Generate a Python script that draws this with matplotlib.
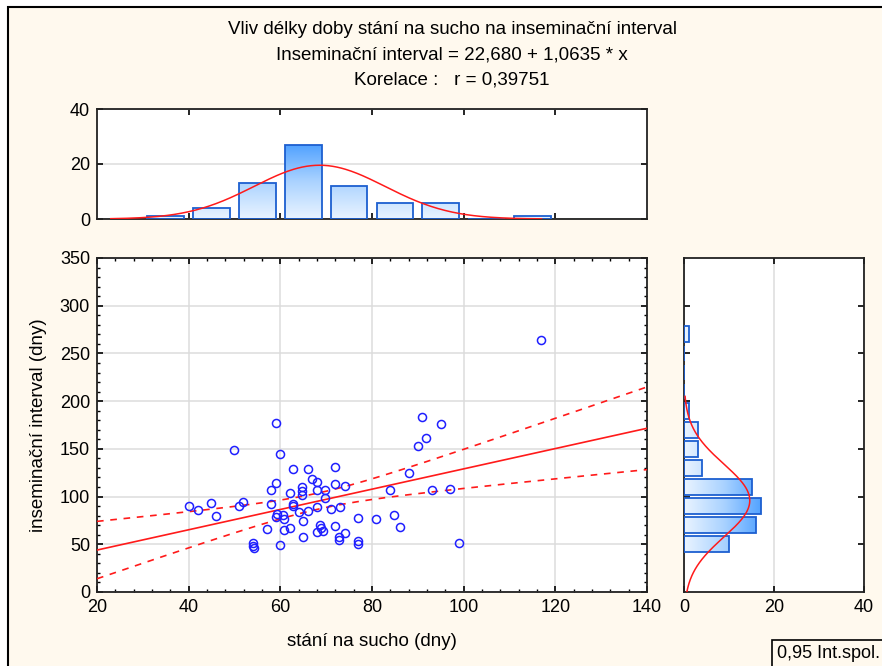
import numpy as np
import matplotlib
matplotlib.use("Agg")
import matplotlib.pyplot as plt
from matplotlib.patches import Rectangle, PathPatch
from matplotlib.path import Path
from matplotlib.colors import LinearSegmentedColormap
from matplotlib.ticker import MultipleLocator

# data
dry_days = [40, 42, 44.8, 46, 49.8,
            51, 51.9, 54, 54, 54.2, 57, 58, 58, 59, 59, 59.2, 59, 59.9,
            60, 60.6, 60.9, 60.9, 62, 62.1, 62.8, 62.8, 62.8, 64.1, 64.7, 64.7, 64.7,
            64.9, 64.9, 66.1, 66.1, 66.8, 68.1, 68.1, 68.1, 67.9, 68.6, 68.8, 69.2,
            69.8, 69.8,
            71, 71.9, 71.9, 71.9, 73, 72.9, 74, 72.9, 74, 77, 77, 77,
            80.8, 84, 84.8, 86, 88, 90.1,
            90.8, 91.8, 93, 95, 97, 99,
            116.9]
interval = [90, 85.5, 92.8, 79.3, 149,
            90.3, 94.5, 51, 48.5, 46, 66, 107, 92, 176.8, 114.6, 81.8, 79, 145,
            49, 80.7, 76.5, 65, 104, 66.8, 129, 90.5, 92.5, 84, 110, 106, 102,
            74.5, 57.3, 129, 85.2, 118.4, 115, 107, 89.4, 63.2, 70, 67, 64,
            107, 98.2,
            86.7, 131, 113, 69.5, 89.4, 57.3, 61.5, 54, 111, 77.2, 53.8, 50.3,
            77, 107, 81, 68, 125, 153,
            183, 161.8, 107, 176.4, 108.3, 51.7,
            264]

x_bin_centers = [35, 45, 55, 65, 75, 85, 95, 105, 115]
x_counts = [1, 4, 13, 27, 12, 6, 6, 0, 1]
y_bin_centers = [50, 70, 90, 110, 130, 150, 170, 190, 210, 230, 250, 270]
y_counts = [10, 16, 17, 15, 4, 3, 3, 1, 0, 0, 0, 1]

intercept = 22.680
slope = 1.0635
title_lines = ["Vliv délky doby stání na sucho na inseminační interval",
               "Inseminační interval = 22,680 + 1,0635 * x",
               "Korelace :   r = 0,39751"]

plt.rcParams['font.family'] = ['Liberation Sans', 'DejaVu Sans']
cream = "#FFF9EE"
bar_edge = "#1C5FD0"
grid_c = "#DCDCDC"
W, H = 882, 666

def box(l, t, r, b):
    return [l / W, 1 - b / H, (r - l) / W, (b - t) / H]

fig = plt.figure(figsize=(W / 100, H / 100), dpi=100, facecolor="white")
fig.add_artist(Rectangle((8 / W, -0.02), 1.0, 1 - 7 / H + 0.02, transform=fig.transFigure,
                         facecolor=cream, edgecolor="black", lw=1.5, zorder=-10))

x = np.array(dry_days)
y = np.array(interval)
n = len(x)

cmap = LinearSegmentedColormap.from_list("bl", ["#EAF4FF", "#A9D2FF", "#4A9EFF"])


def gradient_bars(ax, rects, extent, vertical):
    paths = [r.get_path().transformed(r.get_patch_transform()) for r in rects]
    clip = PathPatch(Path.make_compound_path(*paths), transform=ax.transData,
                     facecolor="none", edgecolor="none")
    ax.add_patch(clip)
    g = np.linspace(0, 1, 256)
    g = g.reshape(-1, 1) if vertical else g.reshape(1, -1)
    im = ax.imshow(g, cmap=cmap, extent=extent, origin="lower", aspect="auto", zorder=2)
    im.set_clip_path(clip)


def style_spines(ax):
    for s in ax.spines.values():
        s.set_linewidth(1.3)
        s.set_color("#222222")


# scatter
ax = fig.add_axes(box(97, 258, 647, 592))
ax.set_xlim(20, 140)
ax.set_ylim(0, 350)
ax.grid(True, color=grid_c, lw=1.1, zorder=0)
ax.plot(x, y, "o", mfc="none", mec="#1F1FFF", ms=5.8, mew=1.1, zorder=4)
xx = np.linspace(20, 140, 200)
fit = intercept + slope * xx
res = y - (intercept + slope * x)
s = np.sqrt(np.sum(res ** 2) / (n - 2))
sxx = np.sum((x - x.mean()) ** 2)
half = 1.995 * s * np.sqrt(1 / n + (xx - x.mean()) ** 2 / sxx)
ax.plot(xx, fit, color="#FF1A1A", lw=1.2, zorder=3)
ax.plot(xx, fit + half, color="#FF1A1A", lw=1.2, ls=(0, (4, 4)), zorder=3)
ax.plot(xx, fit - half, color="#FF1A1A", lw=1.2, ls=(0, (4, 4)), zorder=3)
ax.xaxis.set_major_locator(MultipleLocator(20))
ax.xaxis.set_minor_locator(MultipleLocator(4))
ax.yaxis.set_major_locator(MultipleLocator(50))
ax.yaxis.set_minor_locator(MultipleLocator(10))
ax.tick_params(which="both", direction="in", top=True, right=True, labelsize=13, pad=5)
ax.tick_params(which="major", length=4, width=1.2)
ax.tick_params(which="minor", length=2.5, width=1)
ax.set_xlabel("stání na sucho (dny)", fontsize=13.5, labelpad=12)
ax.set_ylabel("inseminační interval (dny)", fontsize=13.5, labelpad=9)
style_spines(ax)

# top histogram
axt = fig.add_axes(box(97, 109, 647, 219))
rects = axt.bar(x_bin_centers, x_counts, width=8.0, facecolor="none",
                edgecolor=bar_edge, lw=1.3, zorder=3)
gradient_bars(axt, rects, [20, 140, 0, 28], True)
mx, sx = x.mean(), x.std(ddof=1)
cx = np.linspace(23, 117, 300)
axt.plot(cx, n * 10 * np.exp(-0.5 * ((cx - mx) / sx) ** 2) / (sx * np.sqrt(2 * np.pi)),
         color="#FF1A1A", lw=1.1, zorder=4)
axt.set_xlim(20, 140)
axt.set_ylim(0, 40)
axt.set_yticks([0, 20, 40])
axt.set_xticks([40, 60, 80, 100, 120])
axt.yaxis.grid(True, color=grid_c, lw=1.1, zorder=0)
axt.tick_params(direction="in", top=True, right=True, labelbottom=False,
                labelsize=13, length=4, width=1.2, pad=5)
style_spines(axt)

# right histogram
axr = fig.add_axes(box(684, 258, 864, 592))
rects = axr.barh(y_bin_centers, y_counts, height=16.5, facecolor="none",
                 edgecolor=bar_edge, lw=1.3, zorder=3)
gradient_bars(axr, rects, [0, 18, 0, 350], False)
my, sy = y.mean(), y.std(ddof=1)
cy = np.linspace(0, 205, 300)
axr.plot(n * 20 * np.exp(-0.5 * ((cy - my) / sy) ** 2) / (sy * np.sqrt(2 * np.pi)), cy,
         color="#FF1A1A", lw=1.1, zorder=4)
axr.set_xlim(0, 40)
axr.set_ylim(0, 350)
axr.set_xticks([0, 20, 40])
axr.set_yticks([50, 100, 150, 200, 250, 300])
axr.xaxis.grid(True, color=grid_c, lw=1.1, zorder=0)
axr.tick_params(direction="in", top=True, right=True, labelleft=False,
                labelsize=13, length=4, width=1.2, pad=5)
style_spines(axr)

# titles
for i, line in enumerate(title_lines):
    fig.text(452 / W, 1 - (30 + 25 * i) / H, line, ha="center", va="center", fontsize=13.5)

# legend-ish box bottom right
fig.add_artist(Rectangle((772 / W, -0.02), 0.2, (666 - 640) / H + 0.02, transform=fig.transFigure,
                         facecolor=cream, edgecolor="black", lw=1.2))
fig.text(777 / W, 1 - 654 / H, "0,95 Int.spol.", ha="left", va="center", fontsize=13)

fig.savefig("out.png", dpi=100, facecolor=fig.get_facecolor())
